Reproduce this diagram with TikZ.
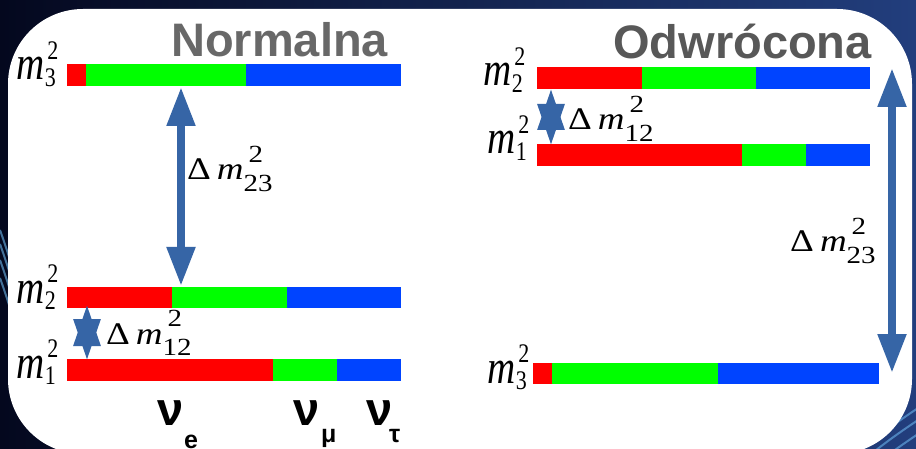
\documentclass[tikz,border=0pt]{standalone}
\usepackage{fontspec}
\setmainfont{Liberation Serif}
\newfontfamily\sansbold[Scale=1]{Liberation Sans}
\usetikzlibrary{arrows.meta}
\definecolor{barred}{RGB}{255,0,0}
\definecolor{bargreen}{RGB}{0,255,0}
\definecolor{barblue}{RGB}{0,68,255}
\definecolor{arrowblue}{RGB}{54,101,166}
\definecolor{titlegrayA}{RGB}{104,104,104}
\definecolor{titlegrayB}{RGB}{88,88,88}
\definecolor{bgleft}{RGB}{4,8,30}
\definecolor{bgright}{RGB}{34,62,125}
\definecolor{streak}{RGB}{120,200,255}
% m_i^2 label
\newcommand\mlab[1]{\scalebox{1}[1.22]{\fontsize{39}{39}\selectfont\textit{m}\kern0.5pt\rlap{\kern2.5pt\raisebox{17pt}{\fontsize{22}{22}\selectfont 2}}\raisebox{-5pt}{\fontsize{22}{22}\selectfont #1}}}
% Delta m_ij^2 label
\newcommand\dlab[1]{\scalebox{1}[0.85]{\fontsize{37}{37}\selectfont Δ\kern6pt\textit{m}\kern0pt\rlap{\kern5pt\raisebox{21pt}{\fontsize{29}{29}\selectfont 2}}\raisebox{-13pt}{\fontsize{29}{29}\selectfont #1}}}
% three-colour bar: x0 x1 x2 x3 ytop ybot
\newcommand\mixbar[6]{%
  \fill[barred] (#1,#5) rectangle (#2,#6);
  \fill[bargreen] (#2,#5) rectangle (#3,#6);
  \fill[barblue] (#3,#5) rectangle (#4,#6);}
\begin{document}
\begin{tikzpicture}[x=1pt,y=-1pt,
  lbl/.style={inner sep=0pt, anchor=base west},
  titlelbl/.style={inner sep=0pt, anchor=base west, font=\sansbold\bfseries\fontsize{47}{47}\selectfont},
  nulbl/.style={inner sep=0pt, anchor=base west, font=\sansbold\bfseries\fontsize{47}{47}\selectfont},
  nusub/.style={inner sep=0pt, anchor=base west, font=\sansbold\bfseries\fontsize{25}{25}\selectfont},
  bigarrow/.style={draw=arrowblue, line width=8pt, >={Triangle[width=27pt,length=39pt]}, <->},
  smallarrow/.style={draw=arrowblue, line width=6pt, >={Triangle[width=26pt,length=41pt]}, <->}]
\useasboundingbox (0,0) rectangle (916,449);
\clip (0,0) rectangle (916,449);
% background
\shade[left color=bgleft, right color=bgright] (0,0) rectangle (916,449);
\foreach \d in {0,14,30,48}{
  \draw[streak, opacity=0.55, line width=2pt] (0,230+\d) .. controls (25,300+\d) and (40,380+\d) .. (90,460+\d);
}
\foreach \d in {0,12,26}{
  \draw[streak, opacity=0.5, line width=2pt] (840,470+\d) .. controls (870,440+\d) and (900,420+\d) .. (930,400+\d);
}
% white panel
\fill[white, rounded corners=75pt] (8,9) rectangle (912,454);
% titles
\node[titlelbl, text=titlegrayA] (tnorm) at (171,57) {Normalna};
\node[titlelbl, text=titlegrayB] (tinv) at (613,59) {Odwrócona};
% Normal ordering bars
\mixbar{67}{86}{246}{401}{64}{86}
\mixbar{67}{172}{287}{401}{287}{308}
\mixbar{67}{273}{337}{401}{359}{381}
% Inverted ordering bars
\mixbar{537}{642}{756}{870}{67}{89}
\mixbar{537}{742}{806}{870}{144}{166}
\mixbar{533}{552}{718}{879}{363}{384}
% mass labels
\node[lbl] (nm3) at (16,80) {\mlab{3}};
\node[lbl] (nm2) at (16,303) {\mlab{2}};
\node[lbl] (nm1) at (16,378) {\mlab{1}};
\node[lbl] (im2) at (483,86) {\mlab{2}};
\node[lbl] (im1) at (487,154) {\mlab{1}};
\node[lbl] (im3) at (487,383) {\mlab{3}};
% arrows
\coordinate (na) at (181,87);
\coordinate (nb) at (181,286);
\draw[bigarrow] (na) -- (nb);
\coordinate (nc) at (87,305);
\coordinate (nd) at (87,360);
\draw[smallarrow] (nc) -- (nd);
\coordinate (ia) at (892,68);
\coordinate (ib) at (892,373);
\draw[bigarrow] (ia) -- (ib);
\coordinate (ic) at (551,89);
\coordinate (id) at (551,145);
\draw[smallarrow] (ic) -- (id);
% delta labels
\node[lbl] (nd23) at (187,180) {\dlab{23}};
\node[lbl] (nd12) at (106,344) {\dlab{12}};
\node[lbl] (id12) at (568,130) {\dlab{12}};
\node[lbl] (id23) at (790,252) {\dlab{23}};
% flavour labels
\node[nulbl] (nue) at (157,425) {ν};
\node[nusub] (nuesub) at (184,448) {e};
\node[nulbl] (num) at (293,425) {ν};
\node[nusub] (numsub) at (321,442) {μ};
\node[nulbl] (nut) at (366,425) {ν};
\node[nusub] (nutsub) at (389,442) {τ};
\end{tikzpicture}
\end{document}
